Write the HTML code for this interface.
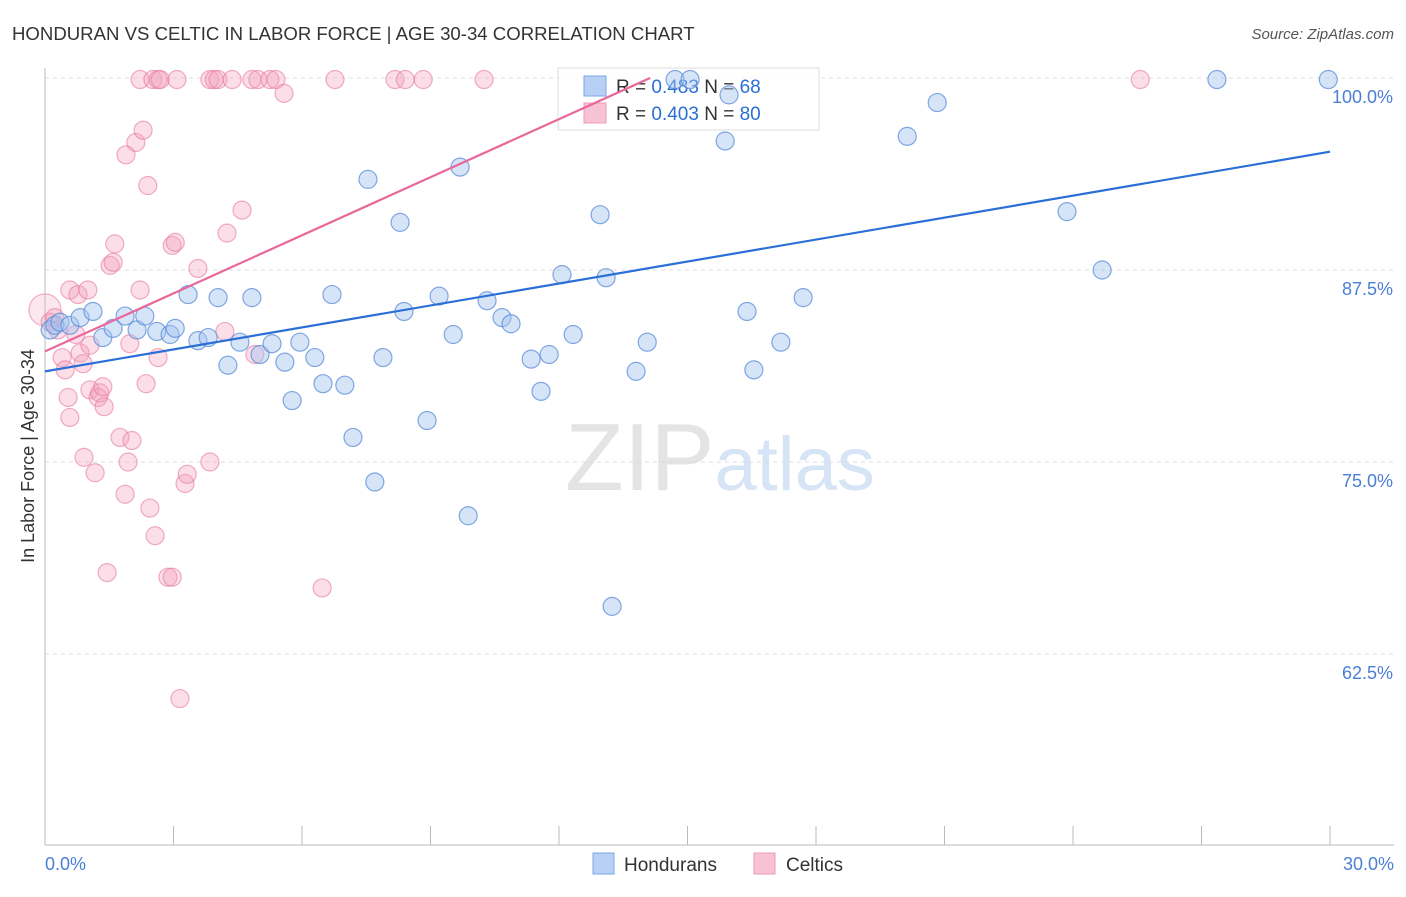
<!DOCTYPE html>
<html><head><meta charset="utf-8"><style>
body{margin:0;background:#fff;font-family:"Liberation Sans",sans-serif;}
svg text{font-family:"Liberation Sans",sans-serif;}
</style></head><body>
<svg id="chart" width="1406" height="892" xmlns="http://www.w3.org/2000/svg">
<text x="12" y="40" font-size="18.6" fill="#333">HONDURAN VS CELTIC IN LABOR FORCE | AGE 30-34 CORRELATION CHART</text>
<text x="1394" y="39" font-size="15" fill="#555" text-anchor="end" font-style="italic">Source: ZipAtlas.com</text>
<text x="720" y="490" font-size="96" text-anchor="middle" fill="#e4e4e4" font-family="Liberation Serif">ZIP<tspan fill="#d6e4f5" font-family="Liberation Sans" font-size="76">atlas</tspan></text>
<g id="grid"></g>
<g id="axes"></g>
<g>
<rect x="558" y="68" width="261" height="62" fill="#fff" fill-opacity="0.85" stroke="#ddd"/>
<rect x="584" y="76" width="22" height="20" fill="#b8d0f4" stroke="#7aa6e6"/>
<rect x="584" y="103" width="22" height="20" fill="#f7c2d3" stroke="#ec9ab5"/>
<text x="616" y="93" font-size="19" fill="#333">R = <tspan fill="#2a6fd6">0.483</tspan>   N = <tspan fill="#2a6fd6">68</tspan></text>
<text x="616" y="120" font-size="19" fill="#333">R = <tspan fill="#2a6fd6">0.403</tspan>   N = <tspan fill="#2a6fd6">80</tspan></text>
</g>
<g id="pts"></g>
<g id="lines"></g>
<text transform="translate(34,456) rotate(-90)" font-size="18" fill="#333" text-anchor="middle">In Labor Force | Age 30-34</text>
<text x="45" y="870" font-size="18" fill="#4a7fd6">0.0%</text>
<text x="1394" y="870" font-size="18" fill="#4a7fd6" text-anchor="end">30.0%</text>
<g>
<rect x="593" y="853" width="21" height="21" fill="#b8d0f4" stroke="#7aa6e6"/>
<text x="624" y="871" font-size="19" fill="#333">Hondurans</text>
<rect x="754" y="853" width="21" height="21" fill="#f7c2d3" stroke="#ec9ab5"/>
<text x="786" y="871" font-size="19" fill="#333">Celtics</text>
</g>
</svg>
<script>
const yTicks=[100,87.5,75,62.5];
const yTickLabels=["100.0%","87.5%","75.0%","62.5%"];
const xTicks=[0,3,6,9,12,15,18,21,24,27,30];
const blueX=[0.12,0.23,0.35,0.58,0.82,1.12,1.35,1.59,1.87,2.15,2.33,2.61,2.92,3.04,3.34,3.57,3.81,4.04,4.27,4.55,4.83,5.02,5.30,5.60,5.77,5.95,6.30,6.49,6.70,7.00,7.19,7.54,7.70,7.89,8.29,8.38,8.92,9.20,9.53,9.69,9.88,10.32,10.67,10.88,11.35,11.58,11.77,12.07,12.33,12.96,13.10,13.24,13.80,14.06,14.71,15.06,15.88,15.97,16.39,16.55,17.18,17.70,20.13,20.83,23.86,24.68,27.36,29.96];
const blueY=[83.6,83.9,84.1,83.9,84.4,84.8,83.1,83.7,84.5,83.6,84.5,83.5,83.3,83.7,85.9,82.9,83.1,85.7,81.3,82.8,85.7,82.0,82.7,81.5,79.0,82.8,81.8,80.1,85.9,80.0,76.6,93.4,73.7,81.8,90.6,84.8,77.7,85.8,83.3,94.2,71.5,85.5,84.4,84.0,81.7,79.6,82.0,87.2,83.3,91.1,87.0,65.6,80.9,82.8,99.9,99.9,95.9,98.9,84.8,81.0,82.8,85.7,96.2,98.4,91.3,87.5,99.9,99.9];
const pinkX=[0,0.12,0.23,0.30,0.40,0.47,0.54,0.58,0.58,0.72,0.77,0.82,0.89,0.91,1.00,1.05,1.17,1.05,1.24,1.28,1.35,1.38,1.45,1.52,1.59,1.63,1.75,1.87,1.89,1.94,1.98,2.03,2.12,2.22,2.22,2.29,2.36,2.40,2.45,2.52,2.57,2.64,2.69,2.64,2.87,2.97,2.97,3.04,3.08,3.15,3.27,3.32,3.57,3.85,3.85,3.95,4.04,4.20,4.25,4.37,4.60,4.83,4.90,4.97,5.25,5.39,5.58,6.47,6.77,8.17,8.41,8.83,10.25,25.57];
const pinkY=[84.9,84.1,84.4,83.6,81.8,81.0,79.2,77.9,86.2,83.3,85.9,82.1,81.4,75.3,86.2,82.6,74.3,79.7,79.2,79.5,79.9,78.6,67.8,87.8,88.0,89.2,76.6,72.9,95.0,75.0,82.7,76.4,95.8,86.2,99.9,96.6,80.1,93.0,72.0,99.9,70.2,99.9,99.9,81.8,67.5,67.5,89.1,89.3,99.9,59.6,73.6,74.2,87.6,75.0,99.9,99.9,99.9,83.5,89.9,99.9,91.4,99.9,82.0,99.9,99.9,99.9,99.0,66.8,99.9,99.9,99.9,99.9,99.9,99.9];
const blueTrend=[80.9,95.2];   // y at x=0 and x=30
const pinkTrend=[82.2,1.26];   // intercept, slope per %
const NS="http://www.w3.org/2000/svg";
const xS=v=>45+v/30*1285;
const yS=v=>78+(100-v)/12.5*192;
function mk(tag,attrs,parent){const e=document.createElementNS(NS,tag);for(const k in attrs)e.setAttribute(k,attrs[k]);parent.appendChild(e);return e;}
const grid=document.getElementById('grid'),axes=document.getElementById('axes'),pts=document.getElementById('pts'),lines=document.getElementById('lines');
yTicks.forEach((t,i)=>{
  const l=mk('line',{x1:45,x2:1394,y1:yS(t),y2:yS(t),stroke:'#ddd','stroke-dasharray':'4,4'},grid);
  
  
  const tx=mk('text',{x:1393,y:yS(t)+25,'font-size':18,fill:'#4a7fd6','text-anchor':'end'},grid);
  tx.textContent=yTickLabels[i];
  
  
});
const ax=mk('line',{x1:45,x2:45,y1:68,y2:845,stroke:'#bbb'},axes);


const bx=mk('line',{x1:45,x2:1394,y1:845,y2:845,stroke:'#bbb'},axes);


xTicks.forEach(t=>{
  const l=mk('line',{x1:xS(t),x2:xS(t),y1:826,y2:845,stroke:'#bbb'},axes);
  
  
});
pinkX.forEach((x,i)=>{
  const c=mk('circle',{cx:xS(x),cy:yS(pinkY[i]),r:i===0?16:9,fill:i===0?'rgba(244,160,188,0.25)':'rgba(244,160,188,0.35)',stroke:'rgba(230,120,160,0.6)','stroke-width':1.2},pts);
  
  
});
blueX.forEach((x,i)=>{
  const c=mk('circle',{cx:xS(x),cy:yS(blueY[i]),r:9,fill:'rgba(164,196,240,0.45)',stroke:'rgba(90,140,215,0.75)','stroke-width':1.2},pts);
  
  
});
const bl=mk('line',{x1:xS(0),y1:yS(blueTrend[0]),x2:xS(30),y2:yS(blueTrend[1]),stroke:'#2a6fd6','stroke-width':2.2},lines);


const xEnd=Math.min(30,(100-pinkTrend[0])/pinkTrend[1]);
const pl=mk('line',{x1:xS(0),y1:yS(pinkTrend[0]),x2:xS(xEnd),y2:yS(pinkTrend[0]+pinkTrend[1]*xEnd),stroke:'#e8689a','stroke-width':2.2},lines);


</script>
</body></html>
